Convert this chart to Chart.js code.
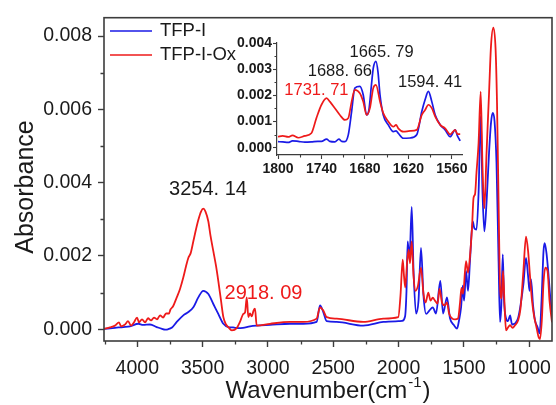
<!DOCTYPE html>
<html>
<head>
<meta charset="utf-8">
<script src="https://cdn.jsdelivr.net/npm/chart.js@4.4.1/dist/chart.umd.min.js"></script>
<style>
  html, body { margin: 0; padding: 0; background: #fff; }
  #wrap { position: relative; width: 556px; height: 405px; overflow: hidden; }
  #main { position: absolute; left: 0; top: 0; }
  #inset { position: absolute; left: 215px; top: 30px; }
</style>
</head>
<body>
<div id="wrap">
  <canvas id="main" width="556" height="405"></canvas>
  <canvas id="inset" width="255" height="150"></canvas>
</div>
<script>
// ---------- FTIR spectra (wavenumber in cm-1, absorbance) ----------
const seriesNames = ['TFP-I', 'TFP-I-Ox'];

const tfpWn = [4255, 4171, 4107, 4056, 3992, 3956, 3903, 3851, 3811, 3788, 3765, 3734, 3698, 3648, 3609, 3571,
  3533, 3495, 3456, 3418, 3380, 3341, 3303, 3267, 3229, 3191, 3137, 3086, 2984, 2831, 2729, 2627, 2601, 2576,
  2550, 2473, 2270, 2116, 2001, 1973, 1950, 1939, 1930, 1916, 1899, 1885, 1866, 1847, 1828, 1809, 1789, 1764,
  1738, 1713, 1680, 1659, 1629, 1606, 1575, 1552, 1537, 1521, 1508, 1498, 1483, 1468, 1453, 1432, 1420, 1403,
  1387, 1371, 1357, 1343, 1326, 1307, 1292, 1279, 1265, 1250, 1234, 1223, 1213, 1202, 1192, 1177, 1162, 1146,
  1131, 1108, 1085, 1066, 1044, 1024, 1008, 997, 986, 970, 955, 936, 920, 905, 890, 881, 867, 851, 836, 825];
const tfpAbs = [0.00001, 0.00004, 0.00006, 0.00008, 0.00015, 0.00012, 0.00013, 0.00006, 0.00001, -0.00001, 0,
  0.00005, 0.0002, 0.00038, 0.00047, 0.0006, 0.00087, 0.00105, 0.00096, 0.00069, 0.00042, 0.00015, 0.00006,
  0.00005, 0.00003, 0.00004, 0.00008, 0.0001, 0.00012, 0.00015, 0.00015, 0.0002, 0.00065, 0.00047, 0.00022,
  0.0002, 0.0001, 0.0002, 0.00022, 0.00023, 0.00035, 0.00105, 0.0024, 0.00191, 0.00334, 0.00159, 0.00043,
  0.00078, 0.00222, 0.00092, 0.00042, 0.00051, 0.0006, 0.00043, 0.00132, 0.00043, 0.00087, 0.0003, 0.00011,
  0.00002, 0.00024, 0.0006, 0.00119, 0.00078, 0.00159, 0.00105, 0.00186, 0.00294, 0.00276, 0.00272, 0.00374,
  0.00582, 0.00374, 0.00267, 0.00347, 0.00482, 0.00563, 0.0059, 0.00568, 0.00455, 0.00186, 0.0002, 0.00065,
  0.00204, 0.00078, 0.0003, 0.00022, 0.00038, 0.00013, 0.00016, 0.0003, 0.00065, 0.00123, 0.00195, 0.00145,
  0.00105, 0.00137, 0.00065, 0.00024, 0.00006, -0.00011, 0.00078, 0.00213, 0.00235, 0.00207, 0.00145, 0.00078,
  0.00046];

const oxWn = [4255, 4209, 4171, 4140, 4125, 4094, 4071, 4048, 4025, 4002, 3987, 3964, 3941, 3918, 3895, 3872,
  3849, 3826, 3803, 3780, 3757, 3746, 3727, 3698, 3673, 3648, 3627, 3609, 3592, 3571, 3551, 3533, 3512, 3495,
  3478, 3456, 3440, 3418, 3397, 3380, 3359, 3341, 3321, 3303, 3277, 3239, 3214, 3188, 3175, 3162, 3150, 3137,
  3124, 3110, 3099, 3086, 2984, 2831, 2729, 2627, 2601, 2576, 2550, 2473, 2270, 2116, 2002, 1985, 1968, 1958,
  1948, 1935, 1922, 1912, 1899, 1885, 1870, 1851, 1828, 1809, 1793, 1772, 1755, 1738, 1721, 1701, 1686, 1667,
  1648, 1629, 1613, 1590, 1567, 1544, 1529, 1518, 1506, 1483, 1468, 1453, 1437, 1426, 1414, 1403, 1387, 1371,
  1357, 1343, 1326, 1307, 1292, 1274, 1257, 1246, 1234, 1223, 1211, 1200, 1188, 1177, 1162, 1146, 1127, 1108,
  1085, 1066, 1044, 1024, 1008, 993, 978, 962, 947, 928, 917, 903, 890, 876, 859, 844, 825];
const oxAbs = [0.00001, 0.00005, 0.0001, 0.00019, 0.00008, 0.00013, 0.00022, 0.0001, 0.00019, 0.00032, 0.00019,
  0.00027, 0.00019, 0.0003, 0.00024, 0.00032, 0.00027, 0.00038, 0.00032, 0.00043, 0.00043, 0.00054, 0.00062,
  0.00087, 0.0011, 0.00141, 0.00172, 0.00195, 0.00207, 0.0024, 0.00272, 0.00298, 0.00321, 0.00329, 0.00321,
  0.00294, 0.00256, 0.00213, 0.00172, 0.00132, 0.00078, 0.00033, 0.00013, 0.00006, -0.00003, 0.00003, 0.0002,
  0.00042, 0.00046, 0.00087, 0.00033, 0.00043, 0.00035, 0.00051, 0.00056, 0.0001, 0.00015, 0.0002, 0.0002,
  0.00029, 0.0006, 0.00051, 0.00033, 0.00029, 0.0002, 0.00029, 0.00033, 0.00092, 0.0019, 0.00145, 0.00114,
  0.0018, 0.00217, 0.0018, 0.0024, 0.00145, 0.00105, 0.00119, 0.00168, 0.00097, 0.00073, 0.001, 0.00078,
  0.00086, 0.00078, 0.0007, 0.0011, 0.00073, 0.00065, 0.00073, 0.00043, 0.0003, 0.00027, 0.0003, 0.00073,
  0.00113, 0.00097, 0.00186, 0.00154, 0.00199, 0.0028, 0.00358, 0.00369, 0.00428, 0.00509, 0.00648, 0.00442,
  0.0033, 0.00482, 0.00644, 0.00773, 0.00823, 0.00765, 0.00617, 0.00347, 0.00119, 0.00084, 0.00159, 0.00065,
  -0.00003, 0.00005, 0.00011, 0.00004, 0.00011, 0.00024, 0.00057, 0.00159, 0.00253, 0.00213, 0.00143, 0.00078,
  0.00035, 0.00011, -0.00021, -0.00027, 0.00024, 0.00127, 0.00168, 0.00159, 0.00078, 0.00019];

// Carbonyl / aromatic region, 1800-1550 cm-1
const insetTfpWn = [1800, 1793.5, 1786, 1780, 1772, 1763, 1754, 1745, 1740, 1733, 1728.4, 1721.5, 1716, 1712,
  1707.7, 1703, 1698.4, 1694, 1687, 1682.4, 1677.7, 1674.5, 1671, 1668.5, 1664.8, 1662, 1659.2, 1654.7, 1647.8,
  1640.8, 1637, 1634, 1627, 1617.7, 1608.5, 1601.5, 1597, 1592.4, 1587.7, 1583, 1576, 1569.3, 1562.4, 1555.4,
  1552.3, 1548.5];
const insetTfpAbs = [0.00023, 0.00022, 0.0002, 0.00026, 0.00024, 0.00021, 0.00022, 0.00024, 0.00024, 0.00033,
  0.00024, 0.00022, 0.00033, 0.00024, 0.00023, 0.00049, 0.00138, 0.00228, 0.00234, 0.00202, 0.00125, 0.00144,
  0.0024, 0.00304, 0.0033, 0.0029, 0.00202, 0.00125, 0.00087, 0.00061, 0.00064, 0.00055, 0.00036, 0.00037,
  0.00049, 0.00138, 0.00183, 0.00215, 0.00176, 0.00125, 0.00087, 0.00068, 0.00042, 0.00068, 0.00045, 0.00026];
const insetOxWn = [1800, 1793.5, 1786, 1780, 1772, 1763, 1754, 1747, 1740, 1733, 1728.4, 1721.5, 1714.6, 1707.7,
  1703, 1698.4, 1694, 1687, 1682.4, 1677.7, 1673, 1668.5, 1664.8, 1659.2, 1654.7, 1647.8, 1640.8, 1637, 1634,
  1627, 1617.7, 1608.5, 1601.5, 1597, 1592.4, 1587.7, 1583, 1576, 1569.3, 1562.4, 1555.4, 1552.3, 1548.5];
const insetOxAbs = [0.00042, 0.00045, 0.00041, 0.00047, 0.00038, 0.00045, 0.00055, 0.00113, 0.00164, 0.00189,
  0.00176, 0.00151, 0.00125, 0.00106, 0.00113, 0.00176, 0.00221, 0.00208, 0.00176, 0.00125, 0.00152, 0.00228,
  0.0024, 0.00176, 0.00132, 0.001, 0.0008, 0.00087, 0.00074, 0.00061, 0.00064, 0.00068, 0.00125, 0.00144,
  0.00164, 0.00151, 0.00119, 0.00087, 0.00074, 0.00051, 0.00068, 0.00052, 0.00052];

// Tick values
const mainXTicks = [1000, 1250, 1500, 1750, 2000, 2250, 2500, 2750, 3000, 3250, 3500, 3750, 4000, 4250];
const mainYTicks = [0, 0.001, 0.002, 0.003, 0.004, 0.005, 0.006, 0.007, 0.008];
const insetXTicks = [1560, 1590, 1620, 1650, 1680, 1710, 1740, 1770, 1800];
const insetYTicks = [0, 0.0005, 0.001, 0.0015, 0.002, 0.0025, 0.003, 0.0035, 0.004];

// Peak annotations
const mainPeakText = ['3254. 14', '2918. 09'];
const insetPeakText = ['1665. 79', '1688. 66', '1731. 71', '1594. 41'];

// ---------- styling ----------
const BLUE = '#1a1ae6';
const RED = '#ee1a1a';
const AXIS = '#3c3c3c';
const FONT = "'Liberation Sans', Arial, sans-serif";

const pts = (xs, ys) => xs.map((x, i) => ({ x: x, y: ys[i] }));
const isMainX = v => v % 500 === 0;
const isMainY = v => Math.round(v * 1000) % 2 === 0;
const isInsetX = v => (1800 - v) % 60 === 0;
const isInsetY = v => Math.abs(v * 1000 - Math.round(v * 1000)) < 1e-6;

// frame, minor ticks, legend, titles and peak labels of the main panel
const mainDecor = {
  id: 'mainDecor',
  afterDraw(chart) {
    const { ctx, chartArea: a, scales } = chart;
    ctx.save();
    ctx.strokeStyle = AXIS;
    ctx.lineWidth = 1.6;
    ctx.strokeRect(a.left, a.top, a.right - a.left, a.bottom - a.top);
    ctx.lineWidth = 1.3;
    ctx.beginPath();
    mainXTicks.filter(v => !isMainX(v)).forEach(v => {
      const px = Math.round(scales.x.getPixelForValue(v)) + 0.5;
      ctx.moveTo(px, a.bottom); ctx.lineTo(px, a.bottom + 3.5);
    });
    mainYTicks.filter(v => !isMainY(v)).forEach(v => {
      const py = Math.round(scales.y.getPixelForValue(v)) + 0.5;
      ctx.moveTo(a.left, py); ctx.lineTo(a.left - 3.5, py);
    });
    ctx.stroke();

    // legend
    const legendRows = [[seriesNames[0], BLUE, 31], [seriesNames[1], RED, 55]];
    ctx.font = '18.5px ' + FONT;
    ctx.textBaseline = 'middle';
    ctx.textAlign = 'left';
    legendRows.forEach(([name, col, y]) => {
      ctx.strokeStyle = col; ctx.lineWidth = 1.6;
      ctx.beginPath(); ctx.moveTo(110, y); ctx.lineTo(152, y); ctx.stroke();
      ctx.fillStyle = '#1a1a1a';
      ctx.fillText(name, 160, y);
    });

    // axis titles
    ctx.fillStyle = '#1a1a1a';
    ctx.save();
    ctx.translate(33, 187);
    ctx.rotate(-Math.PI / 2);
    ctx.font = '25px ' + FONT;
    ctx.textAlign = 'center';
    ctx.textBaseline = 'alphabetic';
    ctx.fillText('Absorbance', 0, 0);
    ctx.restore();

    const big = '24px ' + FONT, sup = '15px ' + FONT;
    ctx.textBaseline = 'alphabetic';
    ctx.textAlign = 'left';
    ctx.font = big; const w1 = ctx.measureText('Wavenumber(cm').width;
    ctx.font = sup; const w2 = ctx.measureText('-1').width;
    ctx.font = big; const w3 = ctx.measureText(')').width;
    let x0 = (a.left + a.right) / 2 - (w1 + w2 + w3 + 2) / 2;
    const base = 398;
    ctx.font = big; ctx.fillText('Wavenumber(cm', x0, base);
    ctx.font = sup; ctx.fillText('-1', x0 + w1 + 1, base - 11);
    ctx.font = big; ctx.fillText(')', x0 + w1 + w2 + 2, base);

    // peak labels
    ctx.font = '20px ' + FONT;
    ctx.textAlign = 'center';
    ctx.textBaseline = 'middle';
    ctx.fillStyle = '#1a1a1a';
    ctx.fillText(mainPeakText[0], scales.x.getPixelForValue(3459), scales.y.getPixelForValue(0.0038));
    ctx.fillStyle = RED;
    ctx.fillText(mainPeakText[1], scales.x.getPixelForValue(3034), scales.y.getPixelForValue(0.00098));
    ctx.restore();
  }
};

const insetDecor = {
  id: 'insetDecor',
  afterDraw(chart) {
    const { ctx, chartArea: a, scales } = chart;
    ctx.save();
    ctx.strokeStyle = AXIS;
    ctx.lineWidth = 1.1;
    ctx.beginPath();
    insetXTicks.filter(v => !isInsetX(v)).forEach(v => {
      const px = Math.round(scales.x.getPixelForValue(v)) + 0.5;
      ctx.moveTo(px, a.bottom); ctx.lineTo(px, a.bottom + 2.5);
    });
    insetYTicks.filter(v => !isInsetY(v)).forEach(v => {
      const py = Math.round(scales.y.getPixelForValue(v)) + 0.5;
      ctx.moveTo(a.left, py); ctx.lineTo(a.left - 2.5, py);
    });
    ctx.stroke();

    ctx.font = '16.5px ' + FONT;
    ctx.textAlign = 'center';
    ctx.textBaseline = 'middle';
    const spots = [[1657, 0.00363, '#1a1a1a'], [1714.6, 0.0029, '#1a1a1a'], [1747, 0.00218, RED], [1590, 0.00248, '#1a1a1a']];
    insetPeakText.forEach((t, i) => {
      const [wn, ab, col] = spots[i];
      ctx.fillStyle = col;
      ctx.fillText(t, scales.x.getPixelForValue(wn), scales.y.getPixelForValue(ab));
    });
    ctx.restore();
  }
};

Chart.defaults.font.family = FONT;

new Chart(document.getElementById('main'), {
  type: 'line',
  data: {
    datasets: [
      { label: seriesNames[1], data: pts(oxWn, oxAbs), borderColor: RED, order: 0 },
      { label: seriesNames[0], data: pts(tfpWn, tfpAbs), borderColor: BLUE, order: 1 }
    ]
  },
  options: {
    responsive: false,
    animation: false,
    devicePixelRatio: 1,
    layout: { padding: { left: 0, right: 4, top: 13, bottom: 0 } },
    elements: {
      point: { radius: 0 },
      line: { borderWidth: 1.8, cubicInterpolationMode: 'monotone', fill: false }
    },
    plugins: { legend: { display: false }, tooltip: { enabled: false } },
    scales: {
      x: {
        type: 'linear', reverse: true, min: 825, max: 4255,
        afterFit: s => { s.height = 64; },
        afterBuildTicks: s => { s.ticks = mainXTicks.map(v => ({ value: v })); },
        border: { display: false },
        grid: {
          drawOnChartArea: false, drawTicks: true, tickLength: 6, tickWidth: 1.4,
          tickColor: c => (c.tick && isMainX(c.tick.value)) ? AXIS : 'rgba(0,0,0,0)'
        },
        ticks: {
          autoSkip: false, maxRotation: 0, padding: 10, color: '#1a1a1a',
          font: { size: 19.5, family: FONT },
          callback: v => isMainX(v) ? String(v) : ''
        }
      },
      y: {
        type: 'linear', min: -0.00032, max: 0.0085,
        afterFit: s => { s.width = 104; },
        afterBuildTicks: s => { s.ticks = mainYTicks.map(v => ({ value: v })); },
        border: { display: false },
        grid: {
          drawOnChartArea: false, drawTicks: true, tickLength: 6, tickWidth: 1.4,
          tickColor: c => (c.tick && isMainY(c.tick.value)) ? AXIS : 'rgba(0,0,0,0)'
        },
        ticks: {
          autoSkip: false, padding: 6, color: '#1a1a1a',
          font: { size: 19.5, family: FONT },
          callback: v => isMainY(v) ? v.toFixed(3) : ''
        }
      }
    }
  },
  plugins: [mainDecor]
});

new Chart(document.getElementById('inset'), {
  type: 'line',
  data: {
    datasets: [
      { label: seriesNames[1], data: pts(insetOxWn, insetOxAbs), borderColor: RED, order: 0 },
      { label: seriesNames[0], data: pts(insetTfpWn, insetTfpAbs), borderColor: BLUE, order: 1 }
    ]
  },
  options: {
    responsive: false,
    animation: false,
    devicePixelRatio: 1,
    layout: { padding: { left: 0, right: 8, top: 13, bottom: 0 } },
    elements: {
      point: { radius: 0 },
      line: { borderWidth: 1.7, cubicInterpolationMode: 'monotone', fill: false }
    },
    plugins: { legend: { display: false }, tooltip: { enabled: false } },
    scales: {
      x: {
        type: 'linear', reverse: true, min: 1546, max: 1801.4,
        afterFit: s => { s.height = 25; },
        afterBuildTicks: s => { s.ticks = insetXTicks.map(v => ({ value: v })); },
        border: { display: true, color: AXIS, width: 1.2 },
        grid: {
          drawOnChartArea: false, drawTicks: true, tickLength: 4, tickWidth: 1.1,
          tickColor: c => (c.tick && isInsetX(c.tick.value)) ? AXIS : 'rgba(0,0,0,0)'
        },
        ticks: {
          autoSkip: false, maxRotation: 0, padding: 2, color: '#1a1a1a',
          font: { size: 14, weight: 'bold', family: FONT },
          callback: v => isInsetX(v) ? String(v) : ''
        }
      },
      y: {
        type: 'linear', min: -0.00028, max: 0.004,
        afterFit: s => { s.width = 62; },
        afterBuildTicks: s => { s.ticks = insetYTicks.map(v => ({ value: v })); },
        border: { display: true, color: AXIS, width: 1.2 },
        grid: {
          drawOnChartArea: false, drawTicks: true, tickLength: 4, tickWidth: 1.1,
          tickColor: c => (c.tick && isInsetY(c.tick.value)) ? AXIS : 'rgba(0,0,0,0)'
        },
        ticks: {
          autoSkip: false, padding: 1, color: '#1a1a1a',
          font: { size: 14, weight: 'bold', family: FONT },
          callback: v => isInsetY(v) ? v.toFixed(3) : ''
        }
      }
    }
  },
  plugins: [insetDecor]
});
</script>
</body>
</html>
